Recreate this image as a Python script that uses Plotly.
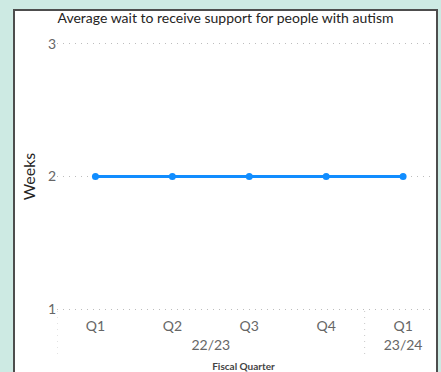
import plotly.graph_objects as go

quarters = ["Q1", "Q2", "Q3", "Q4", "Q1"]
fiscal_years = ["22/23", "22/23", "22/23", "22/23", "23/24"]
wait_weeks = [2, 2, 2, 2, 2]
y_ticks = [1, 2, 3]

W, H = 441, 372
L, R, T, B = 57, 11, 37, 56
pw, ph = W - L - R, H - T - B

def px_x(p):
    return (p - L) / pw

def px_y(p):
    return (H - B - p) / ph

fig = go.Figure()
fig.add_trace(go.Scatter(
    x=[fiscal_years, quarters], y=wait_weeks, mode="lines+markers",
    line=dict(color="#118DFF", width=3),
    marker=dict(color="#118DFF", size=7),
    showlegend=False, hoverinfo="skip",
))

# card background
fig.add_shape(type="rect", xref="paper", yref="paper",
              x0=px_x(14), x1=px_x(437), y0=px_y(385), y1=px_y(10),
              fillcolor="white", line=dict(color="#4d4d4d", width=2), layer="below")

# dotted group dividers
n = len(quarters)
bounds = [-0.5] + [i + 0.5 for i in range(n - 1) if fiscal_years[i] != fiscal_years[i + 1]]
for b in bounds:
    fig.add_shape(type="line", xref="x", yref="paper", x0=b, x1=b, y0=px_y(311), y1=px_y(356),
                  line=dict(color="#c8c8c8", width=1, dash="1px,5px"))

fig.update_layout(
    width=W, height=H,
    margin=dict(l=L, r=R, t=T, b=B),
    paper_bgcolor="#cdeae3", plot_bgcolor="rgba(0,0,0,0)",
    title=dict(text="Average wait to receive support for people with autism",
               x=225.5 / W, xref="container", xanchor="center",
               y=1 - 18 / H, yref="container", yanchor="middle",
               font=dict(family="Lato, DejaVu Sans", size=14, color="#252423")),
    font=dict(family="Lato, DejaVu Sans", color="#666666", size=12),
)
fig.update_xaxes(type="multicategory", range=[-0.5, 4.35], showgrid=False,
                 showdividers=False, showline=False, zeroline=False, ticks="",
                 automargin=False,
                 tickfont=dict(size=14, color="#666666"),
                 title=dict(text="<b>Fiscal Quarter</b>", standoff=10,
                            font=dict(size=10, color="#444444")))
fig.update_yaxes(range=[0.95, 3.05], tickvals=y_ticks, showgrid=True, griddash="1px,5px",
                 gridcolor="#bdbdbd", gridwidth=1, zeroline=False, showline=False,
                 ticks="", automargin=False,
                 tickfont=dict(size=14, color="#666666"),
                 title=dict(text="Weeks", standoff=8,
                            font=dict(size=16, color="#252423")))

fig.write_html("out.html")
